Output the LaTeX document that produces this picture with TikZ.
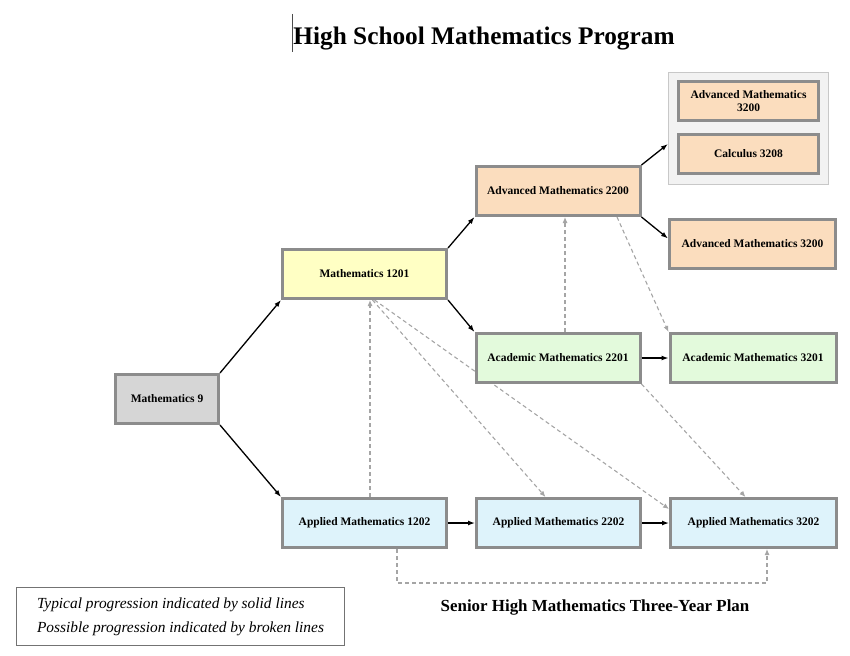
\documentclass[tikz,border=0pt]{standalone}
\usepackage{fontspec}
\setmainfont{Liberation Serif}
\usetikzlibrary{arrows.meta,positioning,backgrounds}
\definecolor{hsmBorder}{RGB}{140,140,140}
\definecolor{hsmGray}{RGB}{214,214,214}
\definecolor{hsmYellow}{RGB}{255,255,196}
\definecolor{hsmPeach}{RGB}{251,221,190}
\definecolor{hsmGreen}{RGB}{227,250,220}
\definecolor{hsmBlue}{RGB}{222,243,251}
\definecolor{hsmDash}{RGB}{165,165,165}
\definecolor{hsmPanel}{RGB}{242,242,242}
\definecolor{hsmPanelLine}{RGB}{200,200,200}

\begin{document}
\begin{tikzpicture}[
    x=1pt, y=-1pt,
    node distance=27pt,
    course/.style={draw=hsmBorder, line width=3pt, align=center, font=\bfseries\fontsize{11.5}{13}\selectfont, minimum width=164pt, minimum height=49pt, inner sep=2pt},
    wide/.style={course, minimum width=166pt},
    small/.style={course, minimum width=140pt, minimum height=39pt},
    flow/.style={-{Latex[length=7pt,width=5pt]}, line width=1.3pt, black},
    maybe/.style={-{Latex[length=6pt,width=5pt]}, line width=1.1pt, hsmDash, dash pattern=on 4pt off 3pt}
  ]
    \useasboundingbox (0,0) rectangle (850,655);
    % title
    \node[anchor=base, font=\bfseries\fontsize{25.3}{30}\selectfont] (title) at (484,45) {High School Mathematics Program};
    \draw[line width=0.6pt, black!70] (292,14) -- (292,52);
    % grade 10
    \node[course, fill=hsmGray, minimum width=103pt] (m9) at (167,399) {Mathematics 9};
    \node[course, fill=hsmYellow] (m1201) at (364.5,274) {Mathematics 1201};
    \node[course, fill=hsmBlue] (ap1202) at (364.5,523) {Applied Mathematics 1202};
    % grade 11
    \node[course, fill=hsmPeach] (am2200) at (558,191) {Advanced Mathematics 2200};
    \node[course, fill=hsmGreen] (ac2201) at (558,358) {Academic Mathematics 2201};
    \node[course, fill=hsmBlue, right=of ap1202] (ap2202) {Applied Mathematics 2202};
    % grade 12
    \node[draw=hsmPanelLine, fill=hsmPanel, line width=1.2pt, minimum width=160pt, minimum height=112pt] (grp) at (748.5,128.5) {};
    \node[small, fill=hsmPeach] (am3200a) at (748.5,101) {Advanced Mathematics\\3200};
    \node[small, fill=hsmPeach] (calc) at (748.5,154) {Calculus 3208};
    \node[wide, fill=hsmPeach] (am3200) at (752.5,243.5) {Advanced Mathematics 3200};
    \node[wide, fill=hsmGreen, right=of ac2201] (ac3201) {Academic Mathematics 3201};
    \node[wide, fill=hsmBlue, right=of ap2202] (ap3202) {Applied Mathematics 3202};
    % solid lines
    \draw[flow] (m9.north east) -- (m1201.south west);
    \draw[flow] (m9.south east) -- (ap1202.north west);
    \draw[flow] (m1201.north east) -- (am2200.south west);
    \draw[flow] (m1201.south east) -- (ac2201.north west);
    \draw[flow] (am2200.north east) -- ([yshift=-15.5pt]grp.west);
    \draw[flow] (am2200.south east) -- ([yshift=-21pt]am3200.north west);
    \draw[flow] (ac2201) -- (ac3201);
    \draw[flow] (ap1202) -- (ap2202);
    \draw[flow] (ap2202) -- (ap3202);
    % broken lines
    \begin{scope}[on background layer]
      \draw[maybe] ([xshift=5.5pt]ap1202.north) -- ([xshift=5.5pt]m1201.south);
      \draw[maybe] ([xshift=8pt]m1201.south) -- ([xshift=-13pt]ap2202.north);
      \draw[maybe] ([xshift=10pt]m1201.south) -- ([yshift=-12pt]ap3202.north west);
      \draw[maybe] ([xshift=7pt]ac2201.north) -- ([xshift=7pt]am2200.south);
      \draw[maybe] ([xshift=59pt]am2200.south) -- (ac3201.north west);
      \draw[maybe] (ac2201.south east) -- ([xshift=-8pt]ap3202.north);
      \draw[maybe] ([xshift=32.5pt]ap1202.south) -- ++(0,34) -| ([xshift=13.5pt]ap3202.south);
    \end{scope}
    % captions
    \node[anchor=base, font=\bfseries\fontsize{16.9}{20}\selectfont] (plan) at (595,611) {Senior High Mathematics Three-Year Plan};
    \node[draw=black!55, line width=0.8pt, align=left, minimum width=328pt, minimum height=58pt, font=\itshape\fontsize{15.4}{24}\selectfont] (legend) at (180.5,616.5) {Typical progression indicated by solid lines\\Possible progression indicated by broken lines};
  \end{tikzpicture}
\end{document}
